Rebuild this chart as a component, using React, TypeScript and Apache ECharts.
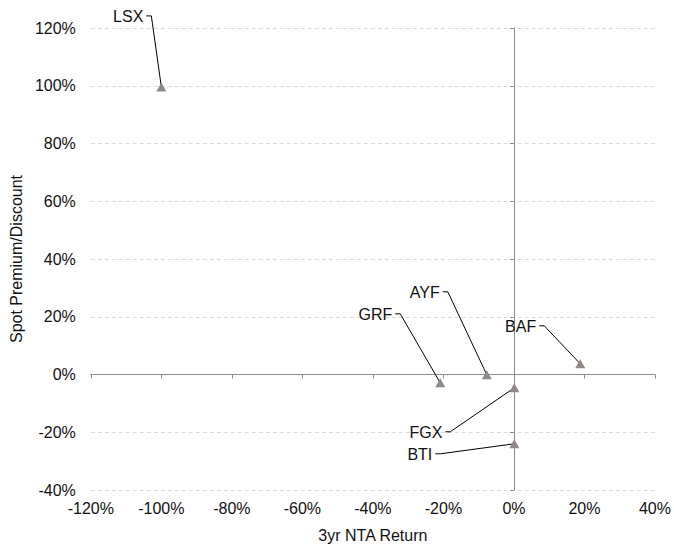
import React, { useEffect, useRef } from "react";
import * as echarts from "echarts";

// Fund codes
const names = ["LSX", "GRF", "AYF", "BAF", "FGX", "BTI"];
// 3yr NTA Return (%)
const ntaReturn = [-100, -20.9, -7.7, 18.8, 0.1, 0.1];
// Spot Premium/Discount (%)
const premium = [99.6, -2.9, -0.1, 3.7, -4.6, -24.0];
// Label anchor offsets (px) relative to the marker: [text right edge, text middle]
const labelOffsets = [
  [-18, -70],
  [-48, -68],
  [-47, -82],
  [-44, -37],
  [-72, 45],
  [-82, 11],
];

const FONT = "'Liberation Sans', Arial, sans-serif";
const TEXT = "#111";
const AXIS = "#8c8c8c";

export default function App() {
  const ref = useRef<HTMLDivElement>(null);

  useEffect(() => {
    document.body.style.margin = "0";
    if (!ref.current) return;
    const chart = echarts.init(ref.current, undefined, { renderer: "svg" });
    const points = names.map((n, i) => ({ name: n, value: [ntaReturn[i], premium[i]] }));

    const labelStyle = { color: TEXT, fontSize: 16, fontFamily: FONT };

    chart.setOption({
      animation: false,
      backgroundColor: "#fff",
      grid: { left: 82, right: 18, top: 28, bottom: 56, containLabel: false },
      xAxis: [
        {
          type: "value",
          min: -120,
          max: 40,
          interval: 20,
          position: "bottom",
          axisLine: { show: false },
          axisTick: { show: false },
          splitLine: { show: false },
          axisLabel: { ...labelStyle, margin: 10, formatter: "{value}%" },
          name: "3yr NTA Return",
          nameLocation: "middle",
          nameGap: 37,
          nameTextStyle: labelStyle,
        },
        {
          type: "value",
          min: -120,
          max: 40,
          interval: 20,
          position: "bottom",
          axisLine: { show: true, onZero: true, lineStyle: { color: AXIS, width: 1 } },
          axisTick: { show: true, length: 4, lineStyle: { color: AXIS } },
          axisLabel: { show: false },
          splitLine: { show: false },
        },
      ],
      yAxis: [
        {
          type: "value",
          min: -40,
          max: 120,
          interval: 20,
          position: "left",
          axisLine: { show: false },
          axisTick: { show: false },
          splitLine: { show: true, lineStyle: { color: "#d9d9d9", type: [4, 3], width: 1 } },
          axisLabel: { ...labelStyle, margin: 15, formatter: "{value}%" },
          name: "Spot Premium/Discount",
          nameLocation: "middle",
          nameGap: 60,
          nameTextStyle: labelStyle,
        },
        {
          type: "value",
          min: -40,
          max: 120,
          interval: 20,
          position: "left",
          axisLine: { show: true, onZero: true, lineStyle: { color: AXIS, width: 1 } },
          axisTick: { show: true, length: 4, lineStyle: { color: AXIS } },
          axisLabel: { show: false },
          splitLine: { show: false },
        },
      ],
      series: [
        {
          type: "custom",
          xAxisIndex: 0,
          yAxisIndex: 0,
          clip: false,
          z: 2,
          data: points,
          renderItem: (params: any, api: any) => {
            const i = params.dataIndex;
            const pt = api.coord([api.value(0), api.value(1)]);
            const off = labelOffsets[i];
            const tx = pt[0] + off[0];
            const ty = pt[1] + off[1];
            return {
              type: "group",
              children: [
                {
                  type: "text",
                  style: {
                    text: names[i],
                    x: tx,
                    y: ty,
                    align: "right",
                    verticalAlign: "middle",
                    fill: TEXT,
                    font: `16px ${FONT}`,
                  },
                },
                {
                  type: "polyline",
                  shape: {
                    points: [
                      [tx + 3, ty - 1],
                      [tx + 8, ty - 1],
                      [pt[0], pt[1]],
                    ],
                  },
                  style: { stroke: "#000", lineWidth: 1, fill: "none" },
                },
              ],
            };
          },
        },
        {
          type: "scatter",
          xAxisIndex: 0,
          yAxisIndex: 0,
          z: 3,
          symbol: "triangle",
          symbolSize: [10, 9],
          itemStyle: { color: "#8f8884", opacity: 1 },
          data: points,
        },
      ],
    });

    return () => chart.dispose();
  }, []);

  return <div ref={ref} style={{ width: 674, height: 548 }} />;
}
